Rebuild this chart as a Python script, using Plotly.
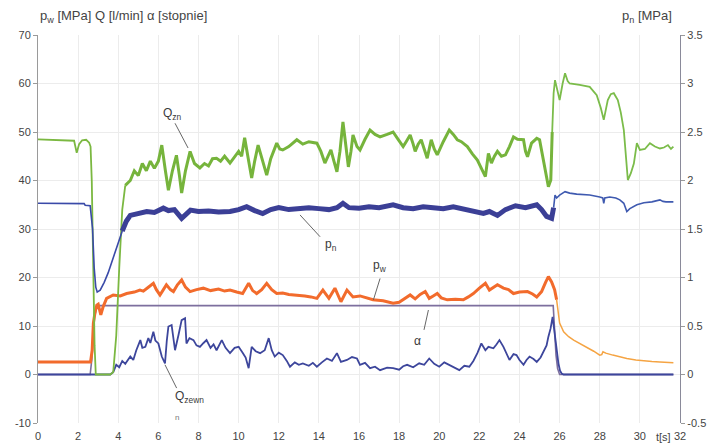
import plotly.graph_objects as go

# ---------------- data ----------------
t_qzn = [0, 0.5, 1.0, 1.5, 1.8, 1.93, 2.05, 2.2, 2.4, 2.55, 2.62, 2.68, 2.75, 2.82, 2.88, 3.2, 3.6, 3.75,
         3.9, 4.05, 4.2, 4.35, 4.6, 4.8, 5.0, 5.2, 5.4, 5.6, 5.8, 6.0, 6.17, 6.35, 6.5, 6.7, 6.9, 7.05, 7.16,
         7.35, 7.58, 7.8, 8.07, 8.3, 8.5, 8.7, 8.9, 9.1, 9.3, 9.57, 9.8, 10.0, 10.15, 10.3, 10.5, 10.65, 10.8,
         10.97, 11.2, 11.4, 11.6, 11.9, 12.05, 12.2, 12.5, 12.9, 13.2, 13.5, 13.9, 14.1, 14.3, 14.45, 14.6,
         14.75, 14.9, 15.05, 15.2, 15.35, 15.47, 15.6, 15.7, 15.9, 16.05, 16.3, 16.55, 16.8, 17.05, 17.4, 17.7,
         17.95, 18.2, 18.35, 18.55, 18.7, 18.8, 18.95, 19.1, 19.25, 19.4, 19.5, 19.6, 19.75, 19.9, 20.2, 20.5,
         20.7, 20.9, 21.1, 21.4, 21.65, 21.9, 22.1, 22.3, 22.45, 22.6, 22.75, 22.9, 23.1, 23.3, 23.5, 23.7,
         23.9, 24.2, 24.3, 24.4, 24.6, 24.86, 25.0, 25.15, 25.27, 25.44, 25.56, 25.63, 25.7, 25.77, 25.9, 26.0,
         26.15, 26.27, 26.4, 26.5, 27.0, 27.5, 27.85, 28.05, 28.2, 28.3, 28.4, 28.55, 28.7, 28.9, 29.05, 29.2,
         29.3, 29.4, 29.55, 29.7, 29.85, 30.0, 30.25, 30.5, 30.75, 31.0, 31.2, 31.4, 31.55, 31.67]
q_zn = [48.5, 48.4, 48.3, 48.3, 48.2, 45.7, 47.5, 48.3, 48.4, 47.8, 47.0, 40.0, 22.0, 6.0, 0.0, 0.0, 0.0, 0.5,
        8.0, 22.0, 34.0, 39.0, 40.0, 42.0, 41.0, 43.5, 42.0, 44.0, 42.5, 44.0, 47.3, 42.0, 38.0, 42.0, 45.2,
        41.0, 37.4, 42.0, 46.0, 43.5, 42.6, 43.5, 43.0, 44.5, 44.6, 44.0, 45.0, 43.6, 45.0, 46.0, 45.0, 48.8,
        44.0, 40.5, 44.0, 47.3, 44.0, 41.1, 44.5, 47.7, 46.5, 46.3, 47.0, 48.4, 47.5, 48.0, 47.7, 46.0, 43.6,
        45.0, 46.3, 44.0, 41.8, 46.0, 52.1, 47.0, 42.8, 46.0, 49.4, 47.0, 46.3, 48.5, 50.4, 49.5, 49.0, 49.5,
        50.0, 48.5, 47.0, 48.0, 49.4, 47.5, 46.0, 47.5, 48.4, 46.5, 44.6, 46.5, 48.4, 46.5, 45.3, 48.0, 50.4,
        49.5, 48.4, 48.0, 47.0, 45.5, 44.2, 42.5, 40.8, 45.6, 43.6, 45.0, 46.0, 45.0, 45.3, 47.0, 49.0, 48.5,
        48.4, 46.0, 44.9, 47.7, 48.7, 48.4, 45.0, 42.2, 38.7, 40.1, 50.0, 58.0, 60.7, 58.0, 56.6, 60.0, 62.1,
        60.5, 60.0, 59.7, 59.3, 57.6, 55.0, 52.5, 55.0, 56.6, 57.8, 58.0, 56.6, 54.0, 50.4, 45.0, 40.1, 41.5,
        43.5, 47.7, 46.3, 46.5, 47.7, 47.0, 46.6, 46.8, 47.3, 46.5, 47.0]

t_pn = [0, 1.0, 2.0, 2.3, 2.35, 2.55, 2.6, 2.72, 2.8, 2.88, 2.95, 3.1, 3.3, 3.5, 3.75, 4.0, 4.2, 4.4, 4.6,
        5.0, 5.42, 5.8, 6.25, 6.5, 6.8, 7.16, 7.4, 7.6, 8.0, 8.5, 9.0, 9.57, 10.0, 10.4, 10.8, 11.2, 11.6,
        12.0, 12.5, 13.0, 13.5, 14.0, 14.5, 14.9, 15.2, 15.5, 16.0, 16.5, 17.0, 17.7, 18.2, 18.7, 19.2, 19.7,
        20.2, 20.7, 21.2, 21.7, 22.2, 22.5, 22.9, 23.3, 23.8, 24.3, 24.86, 25.1, 25.35, 25.6, 25.7, 25.77,
        25.85, 26.0, 26.27, 26.5, 26.85, 27.5, 28.0, 28.15, 28.2, 28.25, 28.5, 28.8, 29.0, 29.2, 29.35, 29.5,
        29.85, 30.2, 30.6, 31.0, 31.15, 31.3, 31.67]
p_n = [1.765, 1.765, 1.765, 1.762, 1.745, 1.74, 1.74, 1.5, 1.1, 0.9, 0.85, 0.87, 0.95, 1.05, 1.2, 1.36, 1.48,
       1.58, 1.64, 1.66, 1.68, 1.67, 1.715, 1.69, 1.70, 1.61, 1.66, 1.695, 1.68, 1.685, 1.675, 1.68, 1.70,
       1.73, 1.69, 1.66, 1.70, 1.72, 1.70, 1.71, 1.72, 1.71, 1.70, 1.72, 1.765, 1.72, 1.715, 1.73, 1.72, 1.75,
       1.72, 1.71, 1.73, 1.72, 1.71, 1.73, 1.71, 1.69, 1.66, 1.68, 1.64, 1.70, 1.74, 1.72, 1.75, 1.70, 1.63,
       1.61, 1.72, 1.85, 1.82, 1.85, 1.885, 1.87, 1.86, 1.85, 1.83, 1.82, 1.765, 1.82, 1.83, 1.82, 1.80,
       1.765, 1.68, 1.71, 1.75, 1.77, 1.78, 1.80, 1.785, 1.78, 1.78]

t_pw = [0, 2.62, 2.7, 2.76, 2.85, 2.93, 3.0, 3.13, 3.25, 3.42, 3.75, 4.1, 4.42, 4.8, 5.08, 5.25, 5.5, 5.75,
        5.9, 6.08, 6.25, 6.4, 6.6, 6.75, 6.95, 7.16, 7.35, 7.58, 7.9, 8.24, 8.6, 9.0, 9.3, 9.57, 9.9, 10.2,
        10.5, 10.7, 10.9, 11.15, 11.4, 11.65, 11.9, 12.2, 12.5, 12.9, 13.3, 13.6, 13.9, 14.2, 14.5, 14.8,
        15.1, 15.4, 15.7, 16.05, 16.4, 16.7, 17.2, 17.7, 18.0, 18.2, 18.55, 18.8, 19.05, 19.3, 19.5, 19.7,
        19.9, 20.1, 20.4, 20.8, 21.2, 21.45, 21.7, 22.0, 22.3, 22.5, 22.7, 22.9, 23.2, 23.45, 23.7, 24.0,
        24.4, 24.65, 24.86, 25.1, 25.3, 25.44, 25.6, 25.75, 25.85, 26.0, 26.2, 26.45, 26.7, 27.0, 27.35,
        27.7, 28.0, 28.1, 28.16, 28.3, 28.65, 29.0, 29.35, 29.8, 30.2, 30.6, 31.0, 31.67]
p_w = [2.6, 2.6, 5.0, 10.6, 13.0, 14.3, 14.5, 12.3, 14.0, 15.7, 16.4, 16.2, 16.7, 17.0, 17.4, 17.2, 18.0,
       18.8, 17.5, 16.4, 17.5, 18.5, 17.5, 17.1, 18.5, 19.5, 18.0, 17.1, 17.5, 17.8, 17.3, 17.6, 17.2, 17.4,
       17.0, 16.7, 18.8, 17.3, 16.7, 17.5, 18.8, 17.5, 16.7, 16.8, 16.5, 16.4, 16.2, 16.0, 15.7, 17.4, 15.7,
       17.8, 15.0, 17.4, 16.0, 16.2, 15.8, 15.4, 15.2, 14.7, 14.9, 15.4, 16.4, 15.6, 16.5, 17.1, 15.7, 16.2,
       16.7, 15.8, 15.4, 15.5, 15.4, 16.0, 16.7, 17.8, 18.8, 17.4, 18.0, 18.5, 17.8, 17.5, 16.7, 17.0, 17.1,
       16.6, 16.0, 17.1, 19.0, 20.2, 19.1, 17.5, 15.4, 10.6, 8.8, 7.8, 7.1, 6.4, 5.7, 4.8, 4.0, 4.1, 4.7,
       4.4, 4.0, 3.6, 3.3, 3.0, 2.8, 2.7, 2.6, 2.4]

t_alpha = [0, 2.6, 2.68, 2.75, 2.82, 2.92, 3.05, 25.68, 25.75, 25.82, 25.9, 26.0, 31.67]
alpha = [0, 0, 3.0, 8.0, 12.0, 13.6, 14.2, 14.2, 9.0, 4.0, 1.2, 0, 0]

t_qz = [0, 3.6, 3.75, 3.9, 4.05, 4.2, 4.35, 4.6, 4.75, 4.9, 5.1, 5.2, 5.35, 5.5, 5.6, 5.75, 5.85, 6.0, 6.17,
        6.33, 6.42, 6.5, 6.66, 6.75, 6.83, 7.0, 7.16, 7.33, 7.4, 7.55, 7.75, 7.9, 8.07, 8.25, 8.4, 8.6, 8.75,
        8.9, 9.16, 9.35, 9.57, 9.8, 10.0, 10.2, 10.35, 10.5, 10.65, 10.85, 11.07, 11.3, 11.5, 11.65, 11.8,
        12.0, 12.2, 12.4, 12.56, 12.8, 13.0, 13.2, 13.5, 13.7, 13.9, 14.15, 14.4, 14.65, 14.9, 15.1, 15.4,
        15.65, 15.9, 16.05, 16.3, 16.55, 16.8, 17.05, 17.4, 17.7, 18.0, 18.2, 18.4, 18.7, 19.0, 19.25, 19.5,
        19.75, 20.0, 20.25, 20.5, 20.75, 21.0, 21.25, 21.5, 21.7, 21.9, 22.1, 22.3, 22.45, 22.7, 22.85, 23.0,
        23.2, 23.35, 23.5, 23.7, 23.85, 24.0, 24.2, 24.35, 24.5, 24.7, 24.86, 25.05, 25.2, 25.35, 25.44,
        25.55, 25.65, 25.72, 25.77, 25.85, 25.94, 26.02, 26.1, 26.2, 31.67]
q_zewn = [0, 0, 0.5, 2.0, 1.5, 2.8, 2.2, 3.7, 3.0, 5.0, 7.1, 5.5, 5.7, 7.5, 6.5, 8.8, 7.0, 6.4, 3.7, 2.3,
          7.0, 9.9, 10.2, 7.0, 5.0, 8.1, 11.2, 11.6, 6.4, 7.5, 7.1, 6.0, 5.7, 6.5, 7.1, 5.5, 6.2, 5.0, 7.1,
          5.5, 4.4, 5.5, 5.7, 4.5, 3.5, 1.3, 5.7, 4.8, 4.4, 5.0, 7.5, 5.0, 3.7, 4.5, 4.0, 2.8, 1.6, 2.5, 2.0,
          2.3, 1.8, 2.4, 1.6, 2.5, 3.3, 2.8, 4.4, 2.6, 3.0, 3.6, 3.3, 2.0, 2.4, 1.3, 1.6, 0.9, 1.4, 1.3, 1.0,
          1.7, 2.0, 1.5, 2.3, 2.0, 3.3, 2.2, 1.6, 2.5, 2.0, 1.4, 0.9, 1.8, 1.6, 2.8, 4.4, 6.4, 5.0, 5.7, 5.4,
          6.2, 7.1, 5.7, 4.5, 3.0, 4.2, 4.0, 3.0, 2.0, 3.0, 3.7, 3.2, 2.6, 3.5, 4.7, 6.0, 7.8, 9.5, 11.9,
          9.5, 7.8, 5.0, 2.3, 0.8, 0.2, 0, 0]

x_ticks = list(range(0, 33, 2))
y_ticks = [-10, 0, 10, 20, 30, 40, 50, 60, 70]
y2_ticks = [-0.5, 0, 0.5, 1, 1.5, 2, 2.5, 3, 3.5]
y2_text = ["-0.5", "0", "0.5", "1", "1.5", "2", "2.5", "3", "3.5"]


def seg(t, v, t0, t1):
    idx = [i for i, x in enumerate(t) if t0 <= x <= t1]
    return [t[i] for i in idx], [v[i] for i in idx]


fig = go.Figure()

# alpha
fig.add_trace(go.Scatter(x=t_alpha, y=alpha, mode="lines", line=dict(color="#7d6f9e", width=1.6),
                         showlegend=False))
# Q_zewn
fig.add_trace(go.Scatter(x=t_qz, y=q_zewn, mode="lines", line=dict(color="#3d469c", width=1.8),
                         showlegend=False))
# p_w
a, b = seg(t_pw, p_w, 0, 25.85)
fig.add_trace(go.Scatter(x=a, y=b, mode="lines", line=dict(color="#f26b2c", width=3.0), showlegend=False))
a, b = seg(t_pw, p_w, 25.85, 32)
fig.add_trace(go.Scatter(x=a, y=b, mode="lines", line=dict(color="#f5a443", width=1.5), showlegend=False))
# Q_zn
a, b = seg(t_qzn, q_zn, 0, 4.4)
fig.add_trace(go.Scatter(x=a, y=b, mode="lines", line=dict(color="#7bb841", width=1.8), showlegend=False))
a, b = seg(t_qzn, q_zn, 4.35, 25.63)
fig.add_trace(go.Scatter(x=a, y=b, mode="lines", line=dict(color="#76b43c", width=3.0), showlegend=False))
a, b = seg(t_qzn, q_zn, 25.63, 32)
fig.add_trace(go.Scatter(x=a, y=b, mode="lines", line=dict(color="#7bbc4a", width=1.8), showlegend=False))
# p_n (right axis)
a, b = seg(t_pn, p_n, 0, 4.2)
fig.add_trace(go.Scatter(x=a, y=b, mode="lines", yaxis="y2", line=dict(color="#3a4aa8", width=1.6),
                         showlegend=False))
a, b = seg(t_pn, p_n, 4.2, 25.7)
fig.add_trace(go.Scatter(x=a, y=b, mode="lines", yaxis="y2", line=dict(color="#3b3f96", width=5),
                         showlegend=False))
a, b = seg(t_pn, p_n, 25.7, 32)
fig.add_trace(go.Scatter(x=a, y=b, mode="lines", yaxis="y2", line=dict(color="#3f5ab0", width=1.6),
                         showlegend=False))

txt = "#444444"
FONT = "Liberation Sans, Arial, sans-serif"
lbl = dict(family=FONT, size=12, color="#3a3a3a")
ann = [
    dict(x=6.68, y=53.8, text="Q<sub>zn</sub>"),
    dict(x=14.6, y=26.8, text="p<sub>n</sub>"),
    dict(x=17.05, y=22.4, text="p<sub>w</sub>"),
    dict(x=18.9, y=7.0, text="α"),
    dict(x=7.55, y=-4.7, text="Q<sub>zewn</sub>"),
]
annotations = [dict(xref="x", yref="y", showarrow=False, font=lbl, **d) for d in ann]
annotations += [
    dict(xref="x", yref="y", x=6.95, y=-8.8, text="n", showarrow=False,
         font=dict(family=FONT, size=8, color="#777")),
    dict(xref="paper", yref="paper", x=0.0, y=1.0, yshift=8, xanchor="left", yanchor="bottom",
         text="p<sub>w</sub> [MPa] Q [l/min] α [stopnie]", showarrow=False,
         font=dict(family=FONT, size=13, color=txt)),
    dict(xref="paper", yref="paper", x=1.0, y=1.0, xshift=-6, yshift=8, xanchor="right", yanchor="bottom",
         text="p<sub>n</sub> [MPa]", showarrow=False,
         font=dict(family=FONT, size=13, color=txt)),
    dict(xref="x", yref="paper", x=31.2, y=0, yshift=-6, yanchor="top", text="t[s]", showarrow=False,
         font=dict(family=FONT, size=11, color=txt)),
]

leader = dict(color="#555555", width=0.9)
shapes = [
    dict(type="line", xref="x", yref="y", x0=6.83, y0=51.8, x1=7.48, y1=46.7, line=leader),
    dict(type="line", xref="x", yref="y", x0=13.06, y0=32.9, x1=14.06, y1=28.4, line=leader),
    dict(type="line", xref="x", yref="y", x0=17.05, y0=19.8, x1=16.72, y1=15.4, line=leader),
    dict(type="line", xref="x", yref="y", x0=19.24, y0=9.2, x1=19.46, y1=13.3, line=leader),
    dict(type="line", xref="x", yref="y", x0=6.33, y0=2.0, x1=6.91, y1=-2.8, line=leader),
]

tick_font = dict(family=FONT, size=11, color=txt)
fig.update_layout(
    width=707, height=448,
    margin=dict(l=38, r=27, t=35, b=25, autoexpand=False),
    paper_bgcolor="#ffffff", plot_bgcolor="#ffffff",
    xaxis=dict(range=[0, 32], tickvals=x_ticks, ticktext=[str(v) for v in x_ticks], automargin=False,
               showgrid=True, gridcolor="#ececec", gridwidth=1, zeroline=False,
               showline=False, ticks="", ticklabelstandoff=5, tickfont=tick_font),
    yaxis=dict(range=[-10, 70], tickvals=y_ticks, ticktext=[str(v) for v in y_ticks], automargin=False,
               showgrid=True, gridcolor="#ececec", gridwidth=1, zeroline=False,
               showline=True, linecolor="#9a9a9a", linewidth=1,
               ticks="outside", ticklen=4, tickcolor="#9a9a9a", tickfont=tick_font),
    yaxis2=dict(range=[-0.5, 3.5], overlaying="y", side="right", tickvals=y2_ticks, ticktext=y2_text,
                automargin=False,
                showgrid=False, zeroline=False, showline=True, linecolor="#8a8a9a", linewidth=1.2,
                ticks="outside", ticklen=4, tickcolor="#9a9a9a", tickfont=tick_font),
    annotations=annotations,
    shapes=shapes,
)

fig.write_html("out.html", config={"displayModeBar": False},
               post_script="document.body.style.margin='0';document.body.style.padding='0';"
                           "document.documentElement.style.overflow='hidden';")
